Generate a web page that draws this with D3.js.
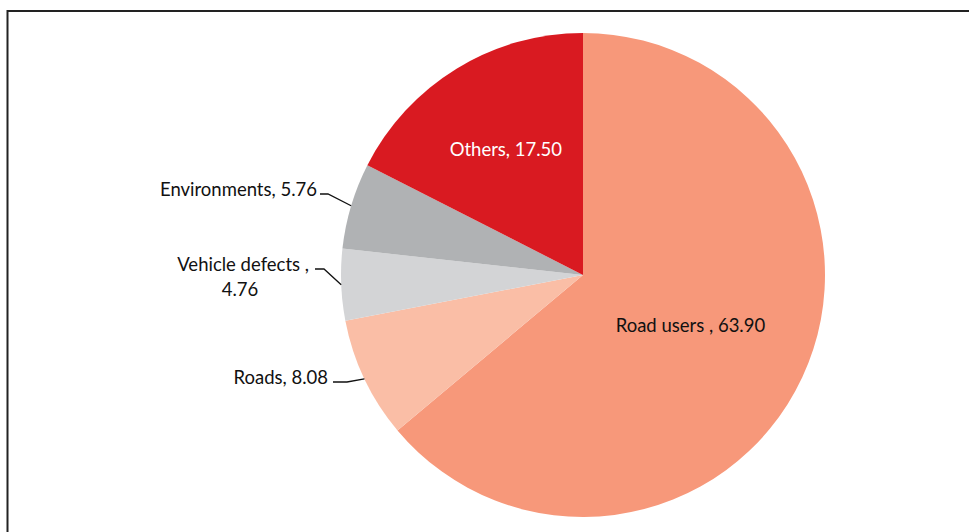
<!DOCTYPE html>
<html>
<head>
<meta charset="utf-8">
<script src="https://cdn.jsdelivr.net/npm/d3@7"></script>
<style>
  html, body { margin: 0; padding: 0; background: #fff; }
  svg { display: block; }
</style>
</head>
<body>
<div id="chart"></div>
<script>
(function () {
  'use strict';

  // Slice data, clockwise from 12 o'clock
  const CATEGORIES = ['Road users ', 'Roads', 'Vehicle defects ', 'Environments', 'Others'];
  const VALUES = [63.90, 8.08, 4.76, 5.76, 17.50];
  const COLORS = ['#F7987A', '#FABEA6', '#D3D4D6', '#B0B2B4', '#D91A21'];

  const W = 969, H = 532;
  const cx = 583, cy = 275, R = 242;
  const FS = 18.5;

  const svg = d3.select('#chart').append('svg')
    .attr('width', W).attr('height', H);

  // frame (top + left only, as in the source image)
  svg.append('path')
    .attr('d', `M7.5,${H} V11 H${W}`)
    .attr('fill', 'none').attr('stroke', '#222').attr('stroke-width', 2);

  const data = CATEGORIES.map((c, i) => ({ name: c, value: VALUES[i], color: COLORS[i] }));

  const pie = d3.pie().value(d => d.value).sort(null);
  const arcs = pie(data);
  const arc = d3.arc().innerRadius(0).outerRadius(R);

  const g = svg.append('g').attr('transform', `translate(${cx},${cy})`);

  g.selectAll('path.slice').data(arcs).enter().append('path')
    .attr('class', 'slice')
    .attr('d', arc)
    .attr('fill', d => d.data.color);

  const font = 'Lato, "Open Sans", sans-serif';
  const fmt = d3.format('.2f');
  const mid = d => (d.startAngle + d.endAngle) / 2;
  const polar = (a, r) => [r * Math.sin(a), -r * Math.cos(a)];

  // inside labels (Road users, Others)
  const inside = { 0: { r: 0.49, fill: '#111' }, 4: { r: 0.61, fill: '#fff' } };
  Object.keys(inside).forEach(k => {
    const d = arcs[+k], o = inside[k];
    const [x, y] = polar(mid(d), R * o.r);
    g.append('text')
      .attr('x', x).attr('y', y).attr('dy', '0.35em')
      .attr('text-anchor', 'middle')
      .attr('font-family', font).attr('font-size', FS)
      .attr('fill', o.fill)
      .text(d.data.name + ', ' + fmt(d.data.value));
  });

  // outside labels with leader lines
  const outside = [
    { i: 1, elbow: [-236, 107], end: [-250, 107] },
    { i: 2, elbow: [-259, -6], end: [-268, -6] },
    { i: 3, elbow: [-255, -81], end: [-263, -81] }
  ];
  outside.forEach(o => {
    const d = arcs[o.i];
    const p = polar(mid(d), R);
    g.append('polyline')
      .attr('points', [p, o.elbow, o.end].map(q => q.join(',')).join(' '))
      .attr('fill', 'none').attr('stroke', '#111').attr('stroke-width', 1.3);

    const t = g.append('text')
      .attr('font-family', font).attr('font-size', FS).attr('fill', '#111')
      .attr('text-anchor', 'end');
    const label = d.data.name + ', ' + fmt(d.data.value);
    if (o.i === 2) {
      // wraps onto two lines
      t.append('tspan').attr('x', o.end[0] - 6).attr('y', o.end[1] + 2).text(d.data.name + ',');
      t.append('tspan').attr('x', o.end[0] - 75).attr('y', o.end[1] + 27)
        .attr('text-anchor', 'middle').text(fmt(d.data.value));
    } else {
      t.attr('x', o.end[0] - (o.i === 1 ? 5 : 3)).attr('y', o.end[1] + 2).text(label);
    }
  });
})();
</script>
</body>
</html>
